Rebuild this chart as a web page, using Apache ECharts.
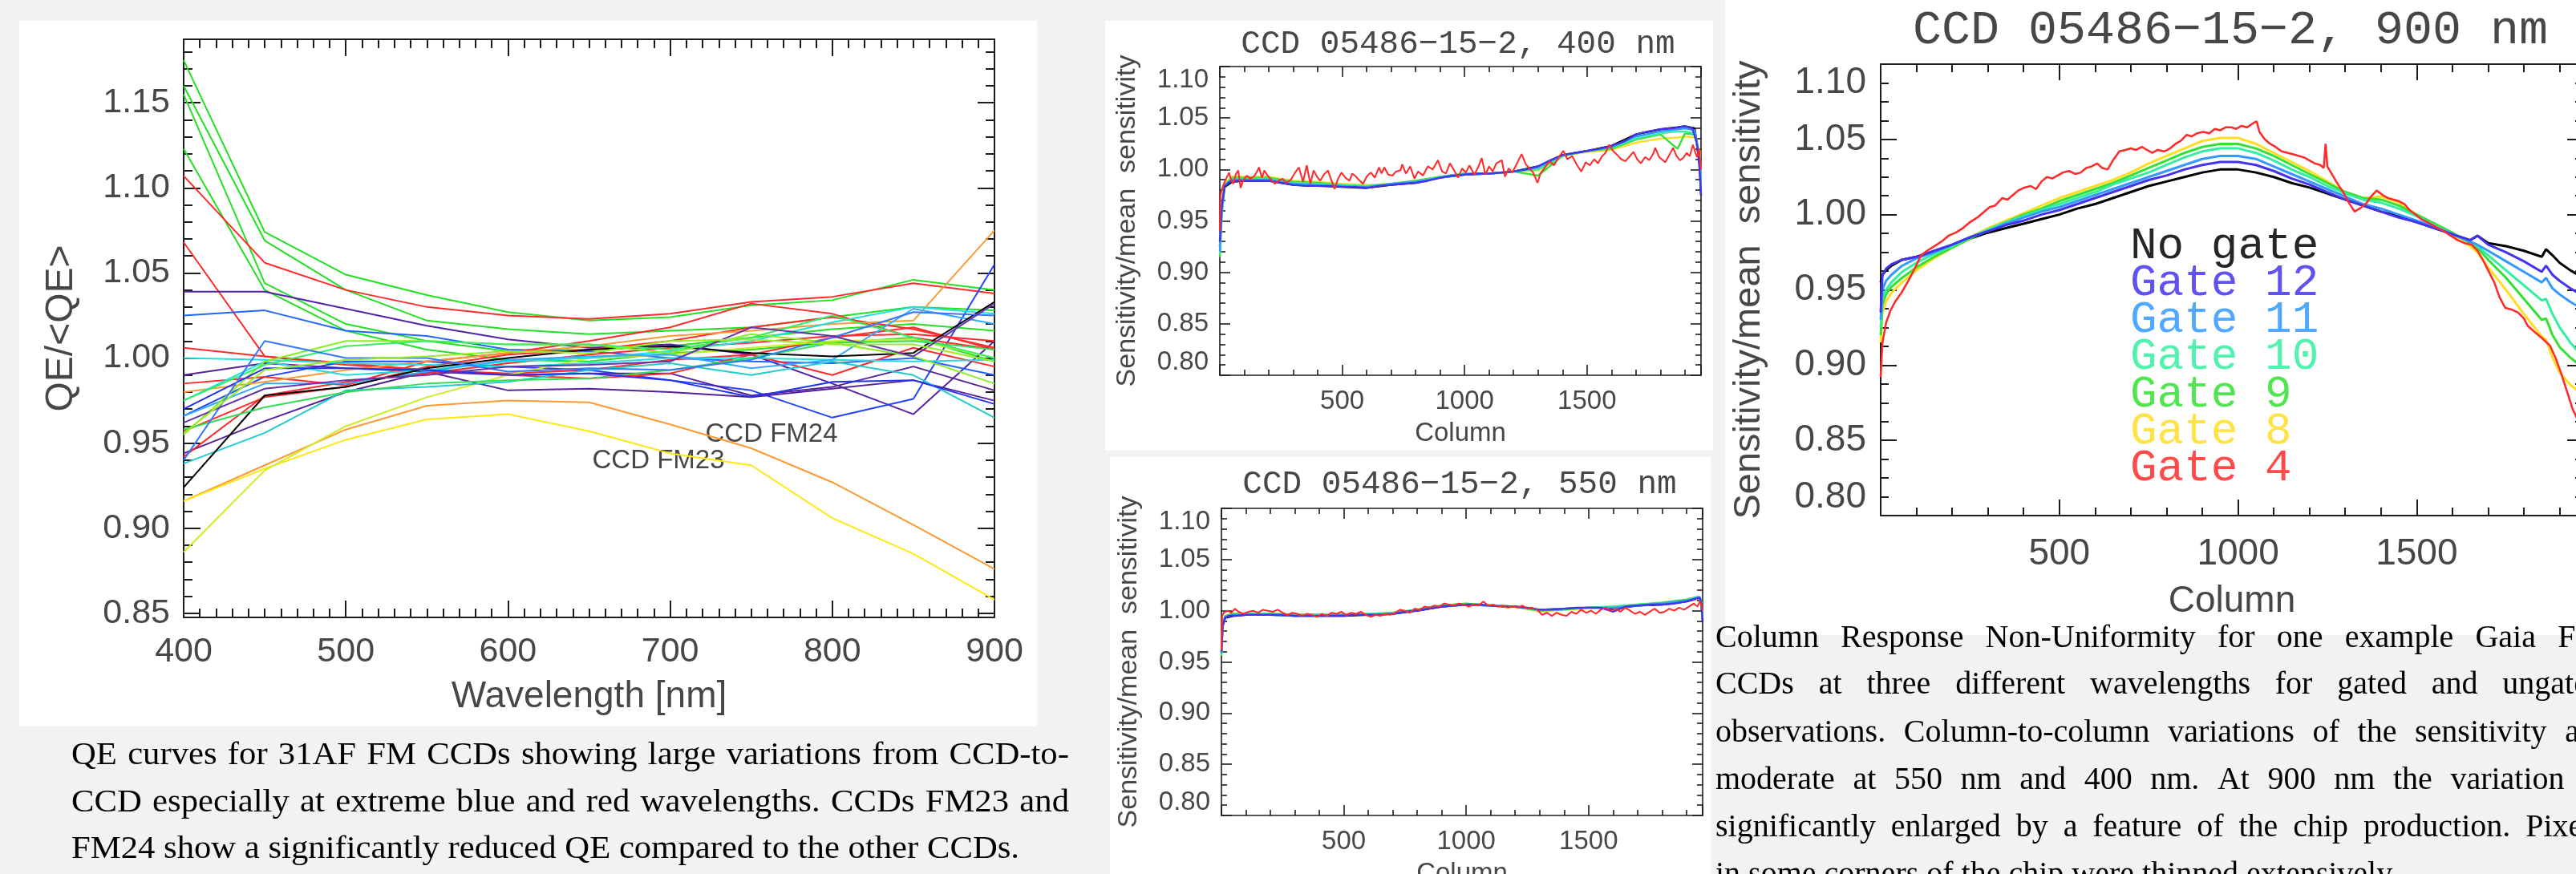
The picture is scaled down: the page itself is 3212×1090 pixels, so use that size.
<!DOCTYPE html>
<html><head><meta charset="utf-8">
<script src="https://cdn.jsdelivr.net/npm/echarts@6/dist/echarts.min.js"></script>
<style>
html,body{margin:0;padding:0;}
body{width:3212px;height:1090px;overflow:hidden;position:relative;background:#f2f2f2;}
.panel{position:absolute;background:#fff;}
#chart{position:absolute;left:0;top:0;width:3212px;height:1090px;}
.cap{position:absolute;white-space:nowrap;color:#000;font-family:'Liberation Serif','Times New Roman',serif;transform-origin:0 0;}
.just{display:flex;justify-content:space-between;}
</style></head><body>
<div class="panel" style="left:24px;top:26px;width:1269px;height:880px"></div>
<div class="panel" style="left:1378px;top:26px;width:758px;height:536px"></div>
<div class="panel" style="left:1384px;top:570px;width:749px;height:530px"></div>
<div class="panel" style="left:2151px;top:0;width:1100px;height:792px"></div>
<div id="chart"></div>
<script>
// ---------------- DATA ----------------
const qeWavelengths = [400,450,500,550,600,650,700,750,800,850,900];
const qeCurves = [
 [1.175,1.074,1.049,1.037,1.027,1.022,1.024,1.031,1.034,1.046,1.040],
 [1.160,1.069,1.040,1.022,1.017,1.014,1.016,1.018,1.024,1.030,1.028],
 [1.155,1.044,1.020,1.010,1.004,1.005,1.007,1.012,1.017,1.020,1.016],
 [1.123,1.040,1.016,1.005,0.999,0.998,1.003,1.005,1.009,1.012,0.998],
 [1.107,1.056,1.040,1.030,1.025,1.023,1.026,1.033,1.036,1.044,1.038],
 [1.068,1.001,0.996,0.993,0.991,0.993,0.999,1.002,1.012,1.018,1.005],
 [1.039,1.039,1.029,1.019,1.011,1.006,1.008,1.002,0.985,0.967,1.010],
 [1.025,1.028,1.016,1.013,1.005,1.004,1.000,0.998,0.997,1.000,0.990],
 [0.966,0.989,0.998,0.998,0.995,0.993,0.987,0.981,0.965,0.976,1.055],
 [0.990,0.997,0.994,0.992,0.990,0.991,0.991,0.978,0.983,0.995,0.981],
 [0.944,0.963,0.980,0.992,0.981,0.982,0.980,0.977,0.982,0.987,0.975],
 [1.006,1.001,0.997,0.993,0.990,0.988,0.991,1.002,0.990,1.006,0.995],
 [0.985,0.989,0.984,0.998,1.003,1.010,1.018,1.032,1.026,1.012,1.005],
 [0.957,0.977,0.983,0.995,1.002,1.005,1.010,1.018,1.024,1.017,1.006],
 [0.942,0.978,0.986,0.991,0.997,1.002,1.006,1.009,1.013,1.014,1.010],
 [0.980,0.986,0.993,0.998,1.003,1.007,1.013,1.016,1.020,1.022,1.075],
 [0.916,0.937,0.958,0.972,0.975,0.974,0.961,0.947,0.927,0.902,0.876],
 [0.916,0.935,0.952,0.964,0.967,0.957,0.944,0.937,0.906,0.885,0.858],
 [0.886,0.934,0.960,0.977,0.990,1.000,1.002,1.006,1.010,1.011,1.000],
 [1.000,0.999,0.997,0.996,0.995,0.997,1.000,1.000,0.999,0.998,0.999],
 [0.975,0.998,0.990,0.993,0.998,1.000,1.004,1.010,1.021,1.030,1.026],
 [0.938,0.956,0.981,0.983,0.986,0.993,0.997,0.990,0.998,0.990,0.965],
 [0.966,0.985,0.985,0.992,0.999,1.001,1.002,0.994,0.999,1.029,1.020],
 [0.924,0.978,0.983,0.994,1.000,1.005,1.007,1.003,1.001,1.003,1.033],
 [0.958,0.971,0.980,0.985,0.987,0.988,0.993,1.000,1.009,1.010,1.005],
 [0.955,0.998,1.010,1.010,1.008,1.008,1.003,1.014,1.009,1.001,0.985],
 [0.975,0.996,1.007,1.010,1.008,1.008,1.005,1.012,1.025,1.012,1.000],
 [0.970,0.994,0.994,0.993,0.990,0.991,0.987,0.977,0.986,0.987,0.973],
 [0.940,1.010,1.000,1.000,0.992,0.994,0.993,0.999,1.012,1.027,1.025],
 [0.962,0.982,0.987,0.990,0.995,0.996,0.998,1.018,1.013,1.001,1.032],
 [0.956,0.993,0.999,1.001,1.004,1.003,1.010,1.011,1.008,1.008,0.998]
];
const qeColors = ['#22e022','#22e022','#22e022','#22e022','#ff2a2a','#ff2a2a','#5522aa','#2266ff','#2244ff','#552299','#552299','#ff2a2a','#ff2a2a','#ff2a2a','#ff2a2a','#ff9933','#ff9933','#ffe811','#ccee22','#22dddd','#22dddd','#22cccc','#33aaff','#000000','#33dd55','#88ee22','#33ee66','#2233ee','#3377ff','#6633aa','#99ee22'];
const qeLabels = ['CCD FM24','CCD FM23'];

const gateNames = ['No gate','Gate 12','Gate 11','Gate 10','Gate 9','Gate 8','Gate 4'];
const gateColors = ['#000000','#4433ee','#3399ff','#33eea0','#33e033','#ffdd22','#ff2a2a'];
const panelTitles = ['CCD 05486\u221215\u22122, 400 nm','CCD 05486\u221215\u22122, 550 nm','CCD 05486\u221215\u22122, 900 nm'];

// 400 nm
const colsHidden400 = [0,8,20,50,100,200,300,400,500,600,700,800,900,1000,1100,1200,1300,1400,1500,1600,1700,1800,1870,1900,1940,1960,1966];
const black400  = [0.925,0.962,0.983,0.988,0.989,0.989,0.985,0.984,0.983,0.982,0.985,0.987,0.992,0.995,0.996,0.998,1.003,1.014,1.018,1.023,1.034,1.039,1.041,1.042,1.040,1.005,0.975];
const lblue400  = [0.920,0.960,0.984,0.990,0.990,0.990,0.986,0.985,0.984,0.983,0.986,0.988,0.992,0.995,0.996,0.998,1.002,1.014,1.018,1.022,1.032,1.037,1.039,1.040,1.038,1.010,0.980];
const aqua400   = [0.918,0.958,0.985,0.991,0.991,0.991,0.987,0.986,0.985,0.984,0.986,0.988,0.993,0.996,0.996,0.998,1.000,1.013,1.018,1.021,1.030,1.035,1.037,1.037,1.035,1.012,0.985];
const green400  = [0.915,0.955,0.985,0.992,0.992,0.992,0.988,0.987,0.985,0.983,0.986,0.989,0.993,0.996,0.996,0.998,0.994,1.013,1.018,1.020,1.029,1.034,1.020,1.035,1.034,1.015,0.990];
const yellow400 = [0.930,0.965,0.986,0.993,0.993,0.993,0.989,0.988,0.986,0.985,0.986,0.989,0.993,0.996,0.996,0.998,0.999,1.013,1.017,1.019,1.026,1.030,1.031,1.032,1.031,1.018,0.995];
const cols400 = [0,8,20,40,70,100,150,200,250,300,350,400,450,500,550,600,650,700,750,800,850,900,950,1000,1050,1100,1150,1200,1250,1300,1350,1400,1450,1500,1550,1600,1650,1700,1750,1800,1850,1900,1930,1950,1960,1966];
const blue400 = [0.930,0.965,0.984,0.988,0.989,0.989,0.989,0.989,0.987,0.985,0.984,0.984,0.984,0.983,0.983,0.982,0.984,0.985,0.986,0.987,0.989,0.992,0.994,0.995,0.996,0.996,0.997,0.998,1.000,1.003,1.009,1.014,1.016,1.018,1.020,1.023,1.027,1.034,1.037,1.039,1.040,1.042,1.040,1.025,1.000,0.975];
const red400 = [[0,0.940],[3,0.975],[10,0.982],[20,0.988],[30,0.993],[38,0.997],[46,0.990],[55,0.986],[65,0.995],[75,0.999],[85,0.982],[95,0.989],[110,0.994],[125,0.991],[138,0.993],[150,0.997],[160,1.002],[172,0.992],[182,0.999],[195,0.994],[210,0.990],[225,0.986],[240,0.989],[257,0.991],[272,0.987],[290,0.990],[305,0.996],[323,1.002],[340,0.988],[355,1.004],[370,0.986],[383,0.999],[397,0.993],[410,0.989],[425,0.995],[442,0.999],[455,0.990],[469,0.981],[483,0.991],[497,0.997],[513,0.992],[530,0.989],[541,0.996],[552,0.994],[568,0.990],[585,0.986],[600,0.993],[617,0.997],[633,0.992],[650,1.002],[661,0.996],[672,1.002],[688,0.995],[705,0.994],[720,0.998],[738,0.999],[745,1.005],[760,0.996],[778,1.003],[795,0.991],[810,0.998],[830,0.994],[850,1.003],[870,1.000],[891,1.009],[908,0.998],[924,0.996],[940,1.006],[958,0.999],[973,0.992],[990,1.001],[1005,0.997],[1020,1.004],[1040,0.995],[1055,1.002],[1070,1.011],[1085,0.995],[1100,1.003],[1115,0.998],[1130,1.006],[1152,1.009],[1165,0.993],[1180,1.001],[1195,0.997],[1210,1.004],[1233,1.015],[1250,1.005],[1265,1.001],[1280,0.997],[1298,0.987],[1310,0.996],[1325,1.001],[1347,1.008],[1365,1.004],[1385,1.012],[1404,1.018],[1420,1.010],[1440,1.013],[1460,1.004],[1477,0.998],[1495,1.007],[1512,1.004],[1530,1.010],[1545,1.006],[1559,1.012],[1575,1.016],[1591,1.024],[1607,1.018],[1624,1.014],[1640,1.010],[1657,1.008],[1675,1.013],[1690,1.017],[1705,1.010],[1720,1.006],[1738,1.012],[1755,1.009],[1770,1.015],[1779,1.021],[1795,1.012],[1810,1.009],[1820,1.007],[1836,1.014],[1852,1.021],[1866,1.013],[1880,1.009],[1893,1.011],[1907,1.016],[1920,1.013],[1933,1.024],[1942,1.017],[1950,1.012],[1958,1.020],[1966,1.000]];

// 550 nm
const colsHidden550 = [0,5,15,50,100,200,300,400,500,600,700,800,900,1000,1100,1200,1300,1400,1500,1600,1700,1800,1900,1950,1960,1966];
const black550  = [0.960,0.985,0.993,0.995,0.996,0.996,0.995,0.995,0.995,0.996,0.997,1.000,1.004,1.006,1.005,1.004,1.001,1.002,1.003,1.002,1.005,1.006,1.009,1.012,1.008,0.990];
const lblue550  = [0.958,0.986,0.994,0.996,0.996,0.996,0.995,0.995,0.996,0.996,0.997,1.001,1.004,1.006,1.005,1.004,1.001,1.002,1.003,1.003,1.005,1.007,1.010,1.013,1.008,0.991];
const aqua550   = [0.957,0.986,0.994,0.996,0.997,0.997,0.996,0.996,0.996,0.997,0.998,1.001,1.005,1.006,1.005,1.004,1.000,1.002,1.003,1.004,1.006,1.007,1.010,1.014,1.009,0.992];
const green550  = [0.956,0.987,0.995,0.997,0.997,0.997,0.996,0.996,0.996,0.996,0.998,1.001,1.005,1.007,1.005,1.004,1.000,1.001,1.003,1.004,1.006,1.008,1.011,1.014,1.010,0.993];
const yellow550 = [0.958,0.988,0.995,0.997,0.997,0.997,0.996,0.996,0.996,0.997,0.998,1.001,1.005,1.007,1.005,1.004,0.999,1.001,1.002,1.003,1.005,1.007,1.010,1.012,1.009,0.994];
const cols550 = [0,5,15,30,60,100,150,200,250,300,350,400,450,500,550,600,650,700,750,800,850,900,950,1000,1050,1100,1150,1200,1250,1300,1350,1400,1450,1500,1550,1600,1650,1700,1750,1800,1850,1900,1940,1955,1962,1966];
const blue550 = [0.960,0.985,0.993,0.995,0.995,0.996,0.996,0.996,0.996,0.995,0.995,0.995,0.995,0.995,0.996,0.996,0.996,0.997,0.999,1.000,1.002,1.004,1.005,1.006,1.006,1.005,1.004,1.004,1.003,1.001,1.001,1.002,1.003,1.003,1.003,0.999,1.004,1.005,1.006,1.006,1.007,1.009,1.012,1.013,1.005,0.990];
const red550 = [[0,0.962],[3,0.995],[10,0.998],[25,1.000],[40,0.998],[55,1.002],[70,0.999],[90,0.997],[110,0.999],[130,1.000],[150,0.998],[170,1.001],[190,1.000],[210,0.999],[230,1.001],[250,0.998],[270,0.996],[290,0.998],[310,0.997],[330,0.995],[350,0.997],[370,0.996],[390,0.994],[410,0.997],[430,0.995],[450,0.998],[470,0.997],[490,0.999],[510,0.996],[530,0.998],[550,0.997],[570,0.999],[590,0.996],[610,0.994],[630,0.996],[650,0.995],[670,0.997],[690,0.996],[710,0.998],[730,1.001],[750,1.000],[770,0.998],[790,1.002],[810,1.001],[830,1.004],[850,1.003],[870,1.005],[890,1.004],[910,1.007],[930,1.006],[950,1.005],[970,1.007],[990,1.006],[1010,1.004],[1030,1.006],[1050,1.005],[1070,1.009],[1090,1.005],[1110,1.006],[1130,1.004],[1150,1.005],[1170,1.003],[1190,1.004],[1210,1.003],[1230,1.005],[1250,1.002],[1270,1.003],[1290,1.001],[1310,0.996],[1330,0.998],[1350,0.995],[1370,0.998],[1390,0.996],[1410,0.995],[1430,0.999],[1450,0.997],[1470,1.001],[1490,0.998],[1510,1.000],[1530,0.997],[1550,1.001],[1570,1.003],[1590,1.000],[1610,1.002],[1630,0.999],[1650,1.003],[1670,1.000],[1690,0.997],[1710,0.999],[1730,0.996],[1750,0.999],[1770,1.002],[1790,0.998],[1810,0.999],[1830,1.002],[1850,1.000],[1870,1.003],[1890,1.001],[1910,1.004],[1930,1.007],[1945,1.004],[1955,1.009],[1962,1.006],[1966,1.000]];

// 900 nm
const cols900 = [0,5,15,30,60,100,150,200,250,300,350,400,450,500,550,600,650,700,750,800,850,900,950,1000,1050,1100,1150,1200,1250,1300,1350,1400,1450,1500,1550,1600,1650,1670,1700,1750,1800,1850,1862,1880,1900,1930,1966];
const black900  = [0.955,0.960,0.963,0.966,0.970,0.972,0.975,0.979,0.984,0.988,0.991,0.994,0.997,1.000,1.004,1.007,1.011,1.015,1.019,1.022,1.025,1.028,1.030,1.030,1.028,1.025,1.021,1.018,1.014,1.010,1.006,1.002,0.999,0.995,0.991,0.987,0.983,0.986,0.981,0.979,0.976,0.972,0.977,0.973,0.968,0.963,0.958];
const blue900   = [0.935,0.960,0.964,0.967,0.970,0.972,0.976,0.980,0.985,0.989,0.993,0.996,1.000,1.003,1.007,1.011,1.015,1.019,1.023,1.026,1.030,1.033,1.035,1.035,1.033,1.029,1.024,1.020,1.015,1.010,1.006,1.002,0.998,0.995,0.991,0.987,0.983,0.986,0.980,0.975,0.969,0.962,0.966,0.960,0.956,0.951,0.946];
const lblue900  = [0.930,0.950,0.956,0.960,0.966,0.971,0.975,0.980,0.985,0.989,0.994,0.998,1.002,1.005,1.009,1.013,1.017,1.021,1.025,1.029,1.033,1.037,1.039,1.039,1.037,1.032,1.027,1.022,1.017,1.012,1.007,1.004,1.000,0.996,0.992,0.987,0.982,0.980,0.976,0.969,0.962,0.955,0.958,0.951,0.947,0.942,0.937];
const aqua900   = [0.925,0.945,0.950,0.955,0.962,0.968,0.974,0.979,0.985,0.990,0.995,0.999,1.003,1.007,1.011,1.015,1.020,1.024,1.028,1.033,1.038,1.042,1.044,1.044,1.041,1.036,1.030,1.025,1.019,1.014,1.010,1.008,1.004,0.999,0.993,0.987,0.982,0.979,0.973,0.963,0.953,0.943,0.944,0.934,0.925,0.915,0.905];
const green900  = [0.920,0.940,0.947,0.952,0.958,0.965,0.972,0.978,0.984,0.990,0.995,1.000,1.004,1.009,1.013,1.017,1.021,1.026,1.031,1.036,1.041,1.045,1.047,1.047,1.044,1.039,1.033,1.027,1.021,1.015,1.011,1.010,1.006,1.000,0.994,0.988,0.981,0.978,0.970,0.958,0.944,0.930,0.931,0.920,0.912,0.905,0.898];
const yellow900 = [0.915,0.935,0.942,0.948,0.955,0.963,0.971,0.978,0.985,0.991,0.996,1.001,1.006,1.011,1.015,1.019,1.023,1.028,1.034,1.039,1.044,1.049,1.051,1.051,1.047,1.041,1.035,1.029,1.022,1.015,1.011,1.012,1.008,1.000,0.993,0.986,0.979,0.975,0.965,0.950,0.934,0.919,0.917,0.905,0.895,0.887,0.880];
const red900 = [[0,0.892],[5,0.915],[15,0.928],[27,0.936],[40,0.942],[58,0.948],[75,0.955],[95,0.964],[113,0.973],[130,0.976],[150,0.979],[170,0.982],[190,0.986],[210,0.988],[230,0.991],[250,0.995],[270,0.998],[290,1.002],[305,1.005],[320,1.006],[340,1.011],[355,1.010],[370,1.013],[385,1.016],[402,1.018],[420,1.019],[435,1.017],[450,1.022],[465,1.025],[480,1.024],[495,1.026],[510,1.028],[527,1.029],[545,1.027],[560,1.028],[575,1.031],[590,1.032],[606,1.034],[620,1.031],[635,1.030],[650,1.036],[668,1.042],[685,1.043],[700,1.044],[715,1.043],[731,1.045],[745,1.043],[760,1.041],[775,1.043],[793,1.042],[810,1.044],[825,1.047],[840,1.049],[856,1.053],[870,1.052],[885,1.054],[903,1.055],[920,1.054],[935,1.057],[950,1.056],[965,1.058],[981,1.058],[995,1.057],[1010,1.059],[1025,1.058],[1044,1.061],[1052,1.062],[1060,1.055],[1075,1.050],[1090,1.047],[1105,1.045],[1122,1.042],[1140,1.041],[1155,1.040],[1170,1.039],[1185,1.038],[1200,1.036],[1215,1.034],[1230,1.033],[1240,1.031],[1245,1.047],[1250,1.032],[1265,1.026],[1280,1.020],[1294,1.015],[1310,1.008],[1326,1.002],[1340,1.004],[1357,1.007],[1372,1.012],[1388,1.016],[1405,1.013],[1420,1.011],[1435,1.010],[1450,1.009],[1466,1.007],[1480,1.003],[1497,1.000],[1513,0.997],[1530,0.995],[1545,0.993],[1560,0.991],[1576,0.989],[1595,0.986],[1615,0.983],[1635,0.981],[1654,0.980],[1670,0.976],[1685,0.970],[1700,0.963],[1717,0.955],[1732,0.945],[1748,0.938],[1765,0.937],[1783,0.935],[1800,0.931],[1811,0.926],[1830,0.922],[1850,0.918],[1873,0.913],[1890,0.904],[1905,0.894],[1920,0.883],[1936,0.871],[1950,0.864],[1966,0.858]];

const captionLeft = [
 'QE curves for 31AF FM CCDs showing large variations from CCD-to-',
 'CCD especially at extreme blue and red wavelengths. CCDs FM23 and',
 'FM24 show a significantly reduced QE compared to the other CCDs.'
];
const captionRight = [
 'Column Response Non-Uniformity for one example Gaia FM',
 'CCDs at three different wavelengths for gated and ungated',
 'observations. Column-to-column variations of the sensitivity are',
 'moderate at 550 nm and 400 nm. At 900 nm the variation is',
 'significantly enlarged by a feature of the chip production. Pixels',
 'in some corners of the chip were thinned extensively.'
];

// ---------------- BUILD ----------------
const zip = (c, v) => c.map((x, i) => [x, v[i]]);
const INK = '#1c1c1c', TXT = '#474747';
const SANS = "'Liberation Sans', Arial, sans-serif";
const MONO = "'Liberation Mono', 'DejaVu Sans Mono', monospace";

function ax(o) {
  const lw = o.lw;
  const a = {
    type: 'value', gridIndex: o.grid, position: o.pos, min: o.min, max: o.max,
    axisLine: {show: true, onZero: false, lineStyle: {color: INK, width: lw}},
    axisTick: {show: true, inside: true, length: o.tl, lineStyle: {color: INK, width: lw}},
    minorTick: {show: true, splitNumber: o.ms, length: o.ml, lineStyle: {color: INK, width: lw}},
    splitLine: {show: false}, minorSplitLine: {show: false},
    axisLabel: {show: false}, silent: true, nameMoveOverlap: false
  };
  if (o.interval != null) a.interval = o.interval;
  if (o.fixInt != null) { a.minInterval = o.fixInt; a.maxInterval = o.fixInt; }
  if (o.label) {
    a.axisLabel = Object.assign({show: true, color: TXT, fontFamily: SANS, fontSize: o.fs, margin: o.margin,
      showMinLabel: o.showMin !== false, showMaxLabel: o.showMax !== false}, o.labelExtra || {});
    if (o.fmt) a.axisLabel.formatter = o.fmt;
  }
  if (o.name) {
    a.name = o.name; a.nameLocation = 'middle'; a.nameGap = o.nameGap;
    a.nameTextStyle = {color: TXT, fontFamily: SANS, fontSize: o.nfs};
    if (o.nameRotate != null) a.nameRotate = o.nameRotate;
  }
  return a;
}
const f2 = v => v.toFixed(2);
const colFmt = v => (v === 0 ? '' : String(v));

const grids = [
  {left: 229, top: 49, width: 1011, height: 721},
  {left: 1521, top: 83, width: 600, height: 385},
  {left: 1523, top: 634, width: 600, height: 383},
  {left: 2345, top: 80, width: 876, height: 563}
].map(g => Object.assign({outerBoundsMode: 'none', containLabel: false}, g));

const xAxes = [], yAxes = [];
// left chart
xAxes.push(ax({grid: 0, pos: 'bottom', min: 400, max: 900, interval: 100, lw: 2, tl: 21, ml: 11, ms: 10, label: true, fs: 43, margin: 22, name: 'Wavelength [nm]', nameGap: 76, nfs: 46}));
xAxes.push(ax({grid: 0, pos: 'top', min: 400, max: 900, interval: 100, lw: 2, tl: 21, ml: 11, ms: 10}));
yAxes.push(ax({grid: 0, pos: 'left', min: 0.8476, max: 1.1873, fixInt: 0.05, lw: 2, tl: 21, ml: 11, ms: 5, label: true, fs: 43, margin: 17, showMin: false, showMax: false, fmt: f2, name: 'QE/<QE>', nameGap: 128, nfs: 48, nameRotate: 90}));
yAxes.push(ax({grid: 0, pos: 'right', min: 0.8476, max: 1.1873, fixInt: 0.05, lw: 2, tl: 21, ml: 11, ms: 5}));
// middle charts
const yEdge = {verticalAlignMinLabel: 'bottom', verticalAlignMaxLabel: 'top'};
[1, 2].forEach(g => {
  xAxes.push(ax({grid: g, pos: 'bottom', min: 0, max: 1966, interval: 500, lw: 1.6, tl: 13, ml: 7, ms: 5, label: true, fs: 33, margin: 16, showMin: false, showMax: false, fmt: colFmt, name: 'Column', nameGap: 56, nfs: 33}));
  xAxes.push(ax({grid: g, pos: 'top', min: 0, max: 1966, interval: 500, lw: 1.6, tl: 13, ml: 7, ms: 5}));
  yAxes.push(ax({grid: g, pos: 'left', min: 0.8, max: 1.1, interval: 0.05, lw: 1.6, tl: 13, ml: 7, ms: 5, label: true, fs: 33, margin: 14, fmt: f2, labelExtra: yEdge, name: 'Sensitivity/mean  sensitivity', nameGap: 98, nfs: 34, nameRotate: 90}));
  yAxes.push(ax({grid: g, pos: 'right', min: 0.8, max: 1.1, interval: 0.05, lw: 1.6, tl: 13, ml: 7, ms: 5}));
});
// right chart
xAxes.push(ax({grid: 3, pos: 'bottom', min: 0, max: 1966, interval: 500, lw: 2, tl: 20, ml: 10, ms: 5, label: true, fs: 46, margin: 25, showMin: false, showMax: false, fmt: colFmt, name: 'Column', nameGap: 84, nfs: 46}));
xAxes.push(ax({grid: 3, pos: 'top', min: 0, max: 1966, interval: 500, lw: 2, tl: 20, ml: 10, ms: 5}));
yAxes.push(ax({grid: 3, pos: 'left', min: 0.8, max: 1.1, interval: 0.05, lw: 2, tl: 20, ml: 10, ms: 4, label: true, fs: 46, margin: 18, fmt: f2, labelExtra: yEdge, name: 'Sensitivity/mean  sensitivity', nameGap: 140, nfs: 47, nameRotate: 90}));
yAxes.push(ax({grid: 3, pos: 'right', min: 0.8, max: 1.1, interval: 0.05, lw: 2, tl: 20, ml: 10, ms: 4}));

const series = [];
function line(xi, yi, data, color, width, name) {
  series.push({type: 'line', name: name, xAxisIndex: xi, yAxisIndex: yi, data: data, symbol: 'none',
    lineStyle: {color: color, width: width}, itemStyle: {color: color}, silent: true, animation: false,
    emphasis: {disabled: true}});
}
qeCurves.forEach((vals, i) => line(0, 0, zip(qeWavelengths, vals), qeColors[i], 2, 'QE' + i));

// draw order: No gate, 8, 9, 10, 11, 12, 4
const order = [0, 5, 4, 3, 2, 1, 6];
const sets = [
  {xi: 2, yi: 2, w: 2.4, data: [zip(colsHidden400, black400), zip(cols400, blue400), zip(colsHidden400, lblue400), zip(colsHidden400, aqua400), zip(colsHidden400, green400), zip(colsHidden400, yellow400), red400]},
  {xi: 4, yi: 4, w: 2.4, data: [zip(colsHidden550, black550), zip(cols550, blue550), zip(colsHidden550, lblue550), zip(colsHidden550, aqua550), zip(colsHidden550, green550), zip(colsHidden550, yellow550), red550]},
  {xi: 6, yi: 6, w: 3, data: [zip(cols900, black900), zip(cols900, blue900), zip(cols900, lblue900), zip(cols900, aqua900), zip(cols900, green900), zip(cols900, yellow900), red900]}
];
sets.forEach(s => order.forEach(k => line(s.xi, s.yi, s.data[k], gateColors[k], k === 6 ? s.w * 0.85 : s.w, gateNames[k])));

function txt(x, y, text, font, fill, align, opacity) {
  return {type: 'text', x: x, y: y, silent: true, style: {text: text, font: font, fill: fill, opacity: opacity == null ? 1 : opacity,
    textAlign: align, textVerticalAlign: 'middle', align: align, verticalAlign: 'middle'}};
}
const graphic = [
  txt(1818, 55, panelTitles[0], '41px ' + MONO, TXT, 'center'),
  txt(1820, 604, panelTitles[1], '41px ' + MONO, TXT, 'center'),
  txt(2781, 38, panelTitles[2], '60px ' + MONO, TXT, 'center'),
  txt(962, 542, qeLabels[0], '33px ' + SANS, TXT, 'center'),
  txt(821, 575, qeLabels[1], '33px ' + SANS, TXT, 'center')
];
const legendY0 = 307, legendStep = 46.2;
gateNames.forEach((n, i) => graphic.push(txt(2656, legendY0 + i * legendStep, n, '56px ' + MONO, gateColors[i], 'left', 0.85)));

const chart = echarts.init(document.getElementById('chart'), null, {renderer: 'canvas'});
chart.setOption({
  animation: false,
  backgroundColor: 'transparent',
  grid: grids, xAxis: xAxes, yAxis: yAxes, series: series, graphic: graphic,
  tooltip: {show: false}
});

// ---------------- CAPTIONS ----------------
function capLine(text, left, cy, fs, lh, justifyW, scale) {
  const d = document.createElement('div');
  d.className = 'cap';
  d.style.left = left + 'px';
  d.style.top = (cy - lh / 2) + 'px';
  d.style.fontSize = fs + 'px';
  d.style.lineHeight = lh + 'px';
  if (justifyW) {
    d.classList.add('just');
    d.style.width = (justifyW / scale) + 'px';
    text.split(' ').forEach(w => { const s = document.createElement('span'); s.textContent = w; d.appendChild(s); });
  } else {
    d.textContent = text;
  }
  d.style.transform = 'scaleX(' + scale + ')';
  document.body.appendChild(d);
  return d;
}
// left caption: natural width of last line defines the horizontal scale
const probe = capLine(captionLeft[2], 89, 1057, 39, 58, 0, 1);
const sL = 1182 / probe.getBoundingClientRect().width;
probe.style.transform = 'scaleX(' + sL + ')';
capLine(captionLeft[0], 89, 940, 39, 58, 1244, sL);
capLine(captionLeft[1], 89, 999, 39, 58, 1244, sL);
// right caption
const rY = [794, 852, 912, 971, 1030, 1089];
captionRight.forEach((t, i) => capLine(t, 2139, rY[i], 40, 58, i < 5 ? 1108 : 0, 1));
</script>
</body></html>
